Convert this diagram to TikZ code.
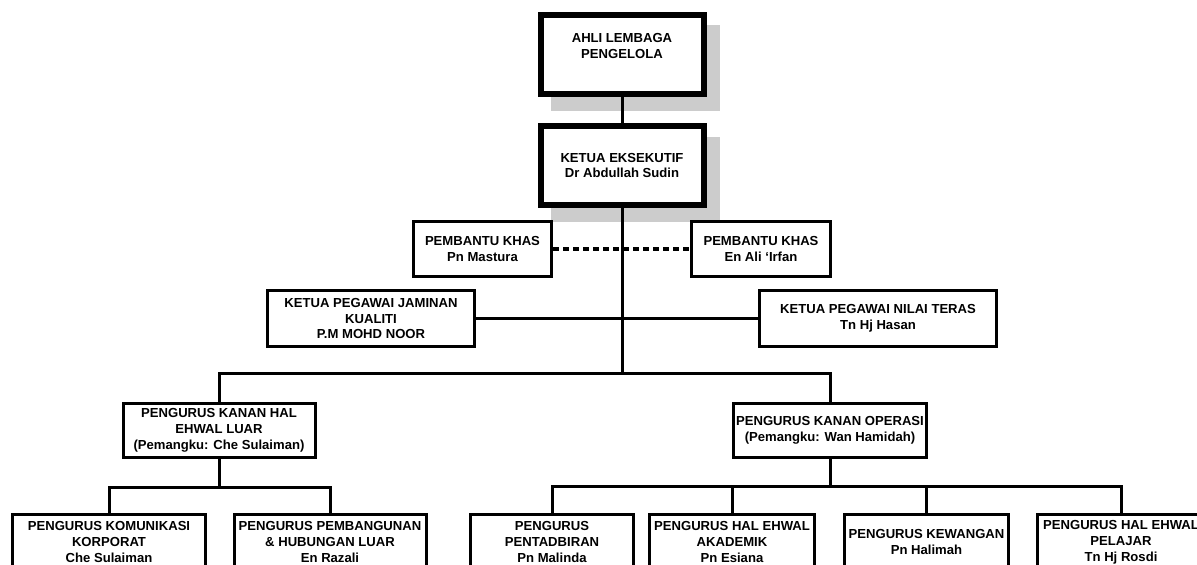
\documentclass[tikz,border=0pt]{standalone}
\usepackage{fontspec}
\setmainfont{Liberation Sans}
\begin{document}
\begin{tikzpicture}[x=1pt,y=-1pt,
  txt/.style={align=center,inner sep=1pt,font=\fontsize{13.1}{15.8}\selectfont\bfseries},
  box/.style={txt,draw=black,fill=white,line width=3pt},
  bigbox/.style={box,line width=6pt},
  shadow/.style={fill=black!20,draw=none},
  link/.style={line width=3pt},
  dotlink/.style={line width=3.5pt,dash pattern=on 6pt off 4pt}]
\useasboundingbox (0,0) rectangle (1197,565);
\clip (0,0) rectangle (1197,565);
% shadows
\fill[shadow] (551,25) rectangle (720,111);
\fill[shadow] (551,137) rectangle (720,222);
\coordinate (bus) at (622,373);
\coordinate (sbL) at (219,487);
\coordinate (sbR) at (830,486);
% top boxes
\node[bigbox,minimum width=163pt,minimum height=79pt] (alp) at (622,54.5) {};
\node[txt] (alpt) at (622,46) {AHLI LEMBAGA\\PENGELOLA};
\node[bigbox,minimum width=163pt,minimum height=79pt] (ke) at (622,165.5) {KETUA EKSEKUTIF\\Dr Abdullah Sudin};
\node[box,minimum width=138pt,minimum height=55pt] (pkl) at (482.5,249) {PEMBANTU KHAS\\Pn Mastura};
\node[box,minimum width=139pt,minimum height=55pt] (pkr) at (761,249) {PEMBANTU KHAS\\En Ali ‘Irfan};
\node[box,minimum width=207pt,minimum height=56pt] (kpj) at (371,318.5) {KETUA PEGAWAI JAMINAN\\KUALITI\\P.M MOHD NOOR};
\node[box,minimum width=237pt,minimum height=56pt] (kpn) at (878,318.5) {KETUA PEGAWAI NILAI TERAS\\Tn Hj Hasan};
\node[box,minimum width=192pt,minimum height=54pt] (hal) at (219,430.5) {PENGURUS KANAN HAL\\EHWAL LUAR\\(Pemangku: Che Sulaiman)};
\node[box,minimum width=193pt,minimum height=54pt] (op) at (830,430.5) {PENGURUS KANAN OPERASI\\(Pemangku: Wan Hamidah)};
% bottom row
\node[box,minimum width=193pt,minimum height=55pt] (kom) at (109,542) {PENGURUS KOMUNIKASI\\KORPORAT\\Che Sulaiman};
\node[box,minimum width=192pt,minimum height=55pt] (pem) at (330,542) {PENGURUS PEMBANGUNAN\\\& HUBUNGAN LUAR\\En Razali};
\node[box,minimum width=163pt,minimum height=55pt] (pen) at (552,542) {PENGURUS\\PENTADBIRAN\\Pn Malinda};
\node[box,minimum width=165pt,minimum height=55pt] (aka) at (732,542) {PENGURUS HAL EHWAL\\AKADEMIK\\Pn Esiana};
\node[box,minimum width=164pt,minimum height=55pt] (kew) at (926.5,542) {PENGURUS KEWANGAN\\Pn Halimah};
\node[box,minimum width=167pt,minimum height=55pt] (pel) at (1121,542) {PENGURUS HAL EHWAL\\PELAJAR\\Tn Hj Rosdi};
% connectors
\draw[link] (alp.south) -- (ke.north);
\draw[link] (ke.south) -- (bus);
\draw[link] (kpj.east) -- (kpn.west);
\draw[dotlink] (pkl.east) -- (pkr.west);
\draw[link] (hal.north) |- (bus) -| (op.north);
\draw[link] (hal.south) -- (sbL);
\draw[link] (kom.north) |- (sbL) -| (pem.north);
\draw[link] (op.south) -- (sbR);
\draw[link] (pen.north) |- (sbR) -| (pel.north);
\draw[link] (aka.north) -- (aka.north |- sbR);
\draw[link] (kew.north) -- (kew.north |- sbR);
\end{tikzpicture}
\end{document}
